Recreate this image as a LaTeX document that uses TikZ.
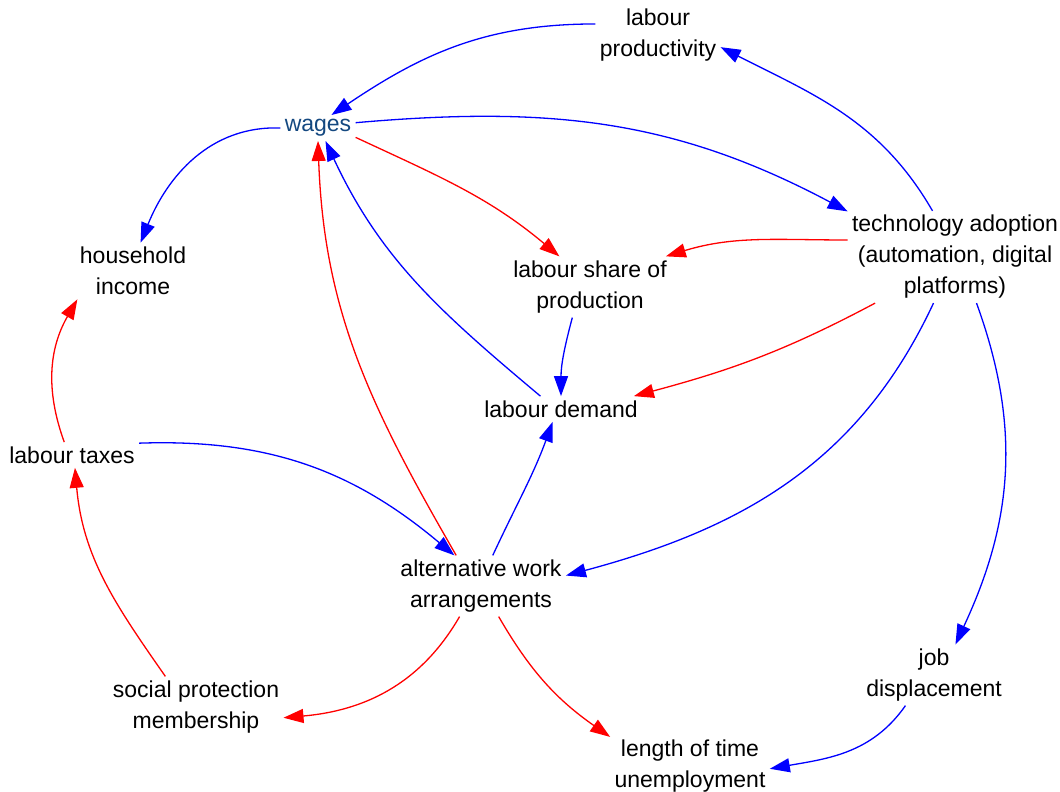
\documentclass[tikz,border=0pt]{standalone}
\usepackage{xcolor}
\usepackage{fontspec}
\setmainfont{Liberation Sans}
\usepackage{tikz}
\usetikzlibrary{arrows.meta}

\definecolor{wageblue}{RGB}{20,72,128}

\begin{document}
\begin{tikzpicture}[x=0.5pt,y=0.5pt,
	var/.style={align=center,inner sep=2pt,font=\fontsize{11.5}{15.5}\selectfont},
	bluelink/.style={blue,line width=0.65pt,-{Triangle[length=10pt,width=7pt]}},
	redlink/.style={red,line width=0.65pt,-{Triangle[length=10pt,width=7pt]}}]
	\useasboundingbox (0,0) rectangle (1060,792);
	\path (658,757) node[var] (prod) {labour\\productivity};
	\path (318,664) node[var,text=wageblue] (wages) {wages};
	\path (133,521) node[var] (income) {household\\income};
	\path (590,505) node[var] (share) {labour share of\\production};
	\path (955,535) node[var] (tech) {technology adoption\\(automation, digital\\platforms)};
	\path (561,383) node[var] (demand) {labour demand};
	\path (72,337) node[var] (taxes) {labour taxes};
	\path (481,206) node[var] (alt) {alternative work\\arrangements};
	\path (934,117) node[var] (displ) {job\\displacement};
	\path (196,85) node[var] (social) {social protection\\membership};
	\path (690,26) node[var] (unempl) {length of time\\unemployment};
	% links
	\draw[bluelink] (prod.170) to[out=180,in=34] (wages.44);
	\draw[bluelink] (tech.116) to[out=120,in=-27] (prod.-11);
	\draw[bluelink] (wages.8) to[out=5,in=152] (tech.157);
	\draw[bluelink] (wages.west) to[out=178,in=68] (income.75);
	\draw[redlink] (wages.-14) to[out=-25,in=140] (share.135);
	\draw[redlink] (tech.171) to[out=180,in=17] (share.22);
	\draw[redlink] (tech.210) to[out=208,in=15] (demand.10);
	\draw[bluelink] (share.240) to[out=255,in=90] (demand.north);
	\draw[bluelink] (demand.148) to[out=140,in=-65] (wages.-60);
	\draw[redlink] (alt.129) to[out=120,in=-88] (wages.south);
	\draw[bluelink] (tech.245) to[out=245,in=15] (alt.7);
	\draw[bluelink] (alt.69) to[out=65,in=250] (demand.237);
	\draw[bluelink] (taxes.10) to[out=2,in=140] (alt.131);
	\draw[redlink] (taxes.121) to[out=110,in=240] (income.207);
	\draw[redlink] (social.135) to[out=125,in=-85] (taxes.-77);
	\draw[redlink] (alt.235) to[out=240,in=5] (social.-7);
	\draw[redlink] (alt.-60) to[out=-60,in=145] (unempl.160);
	\draw[bluelink] (tech.-65) to[out=-70,in=65] (displ.55);
	\draw[bluelink] (displ.227) to[out=235,in=10] (unempl.-2);
\end{tikzpicture}
\end{document}
